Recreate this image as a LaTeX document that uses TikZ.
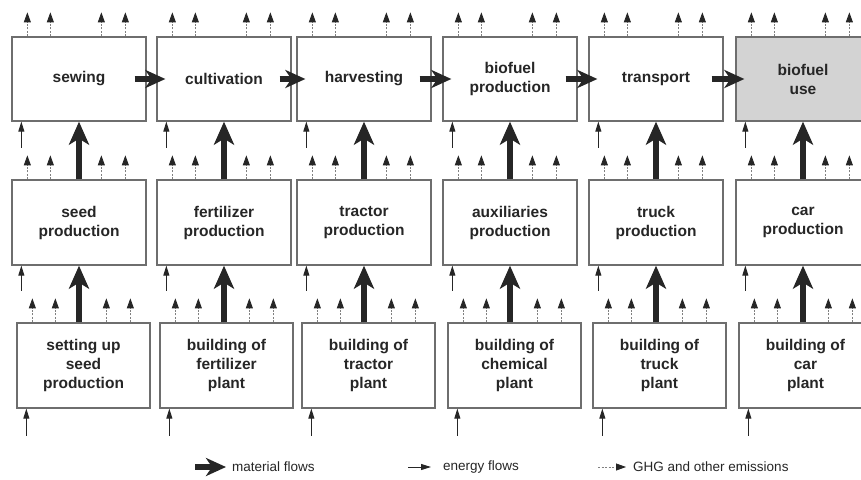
\documentclass[tikz,border=0pt]{standalone}
\usepackage{fontspec}
\setmainfont{Liberation Sans}
\usetikzlibrary{arrows.meta,calc}
\definecolor{boxline}{HTML}{6E6E6E}
\definecolor{txt}{HTML}{262626}
\definecolor{usefill}{HTML}{D3D3D3}
\tikzset{
  x=1pt,y=1pt,
  box/.style={draw=boxline,line width=1.3pt,fill=white,minimum width=134pt,inner sep=0pt,
    align=center,text=txt,font=\fontsize{15.5}{19}\selectfont\bfseries},
  mat/.style={line width=6.5pt,txt,-{Stealth[length=23pt,width=20pt,inset=6pt]}},
  hmat/.style={line width=6.5pt,txt,-{Stealth[length=20pt,width=18pt,inset=6pt]}},
  energy/.style={line width=0.9pt,txt,-{Triangle[length=10pt,width=6pt]}},
  emis/.style={line width=0.8pt,gray,dash pattern=on 2pt off 1.5pt,-{Triangle[length=10pt,width=7pt,color=txt]}},
  legtext/.style={anchor=west,inner sep=0pt,text=txt,font=\fontsize{13.5}{16}\selectfont},
}
\begin{document}
\begin{tikzpicture}
\clip (0,0) rectangle (861,-479);
\fill[white] (0,0) rectangle (861,-479);
% row 1
\node[box,minimum height=84pt] (a1) at (79,-79) {sewing};
\node[box,minimum height=84pt] (a2) at (224,-79) {cultivation};
\node[box,minimum height=84pt] (a3) at (364,-79) {harvesting};
\node[box,minimum height=84pt] (a4) at (510,-79) {biofuel\\production};
\node[box,minimum height=84pt] (a5) at (656,-79) {transport};
\node[box,minimum height=84pt,fill=usefill] (a6) at (803,-79) {biofuel\\use};
% row 2
\node[box,minimum height=85pt] (b1) at (79,-222.5) {seed\\production};
\node[box,minimum height=85pt] (b2) at (224,-222.5) {fertilizer\\production};
\node[box,minimum height=85pt] (b3) at (364,-222.5) {tractor\\production};
\node[box,minimum height=85pt] (b4) at (510,-222.5) {auxiliaries\\production};
\node[box,minimum height=85pt] (b5) at (656,-222.5) {truck\\production};
\node[box,minimum height=85pt] (b6) at (803,-222.5) {car\\production};
% row 3
\node[box,minimum width=133pt,minimum height=85pt] (c1) at (83.5,-365.5) {setting up\\seed\\production};
\node[box,minimum width=133pt,minimum height=85pt] (c2) at (226.5,-365.5) {building of\\fertilizer\\plant};
\node[box,minimum width=133pt,minimum height=85pt] (c3) at (368.5,-365.5) {building of\\tractor\\plant};
\node[box,minimum width=133pt,minimum height=85pt] (c4) at (514.5,-365.5) {building of\\chemical\\plant};
\node[box,minimum width=133pt,minimum height=85pt] (c5) at (659.5,-365.5) {building of\\truck\\plant};
\node[box,minimum width=133pt,minimum height=85pt] (c6) at (805.5,-365.5) {building of\\car\\plant};
% horizontal material flows
\foreach \p/\n in {a1/a2,a2/a3,a3/a4,a4/a5,a5/a6}{
  \draw[hmat] ([xshift=-12pt]\p.east) -- ([xshift=9pt]\n.west);
}
% vertical material flows
\foreach \i in {1,...,6}{
  \draw[mat] (b\i.north) -- (a\i.south);
  \draw[mat] (b\i.south |- c\i.north) -- (b\i.south);
}
% energy flows
\foreach \r/\l in {a/26,b/25,c/27}{
  \foreach \i in {1,...,6}{
    \draw[energy] ([xshift=10pt,yshift=-\l pt]\r\i.south west) -- ([xshift=10pt]\r\i.south west);
  }
}
% emissions
\foreach \r in {a,b,c}{
  \foreach \i in {1,...,6}{
    \foreach \dx in {16,39,90,114}{
      \draw[emis] ([xshift=\dx pt]\r\i.north west) -- ([xshift=\dx pt,yshift=24pt]\r\i.north west);
    }
  }
}
% legend
\coordinate (m0) at (195,-467);
\coordinate (m1) at (226,-467);
\node[legtext] (mt) at (232,-467) {material flows};
\draw[hmat] (m0) -- (m1);
\coordinate (e0) at (408,-467);
\coordinate (e1) at (431,-467);
\node[legtext] (et) at (443,-467) {energy flows};
\draw[energy] (e0) -- (e1);
\coordinate (g0) at (598,-467);
\coordinate (g1) at (626,-467);
\node[legtext] (gt) at (633,-467) {GHG and other emissions};
\draw[emis] (g0) -- (g1);
\end{tikzpicture}
\end{document}
